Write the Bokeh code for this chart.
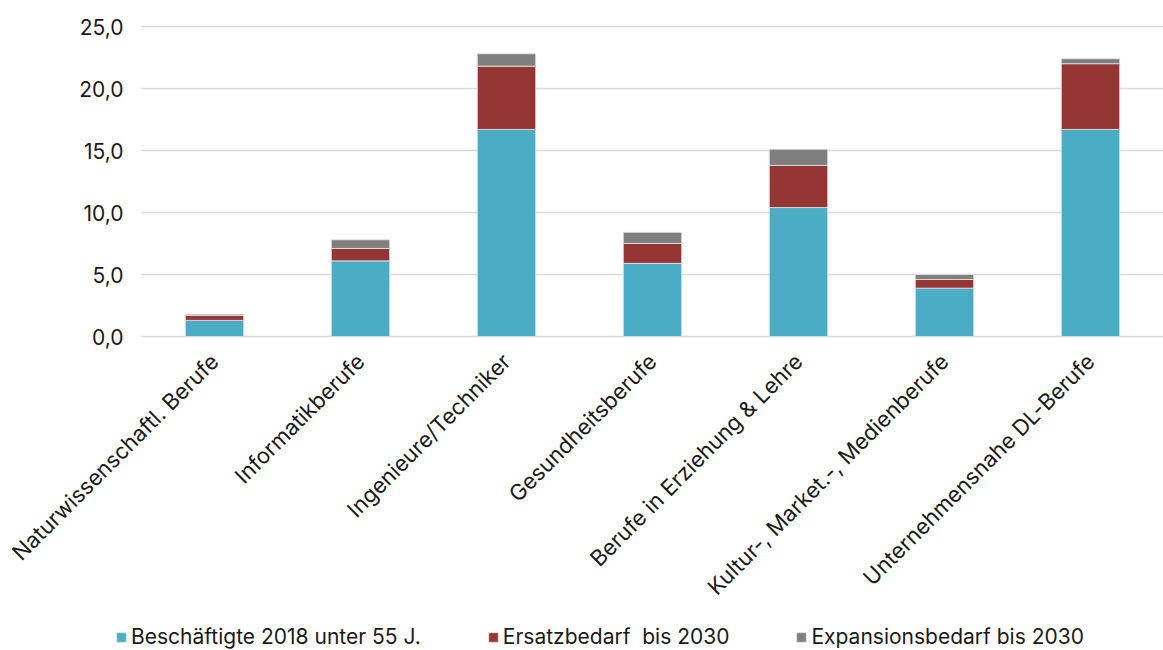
import math

from bokeh.embed import file_html
from bokeh.models import ColumnDataSource, FixedTicker, Legend, LegendItem, Range1d
from bokeh.plotting import figure
from bokeh.resources import INLINE

# Berufsgruppen (Kategorien der x-Achse)
categories = [
    "Naturwissenschaftl. Berufe",
    "Informatikberufe",
    "Ingenieure/Techniker",
    "Gesundheitsberufe",
    "Berufe in Erziehung & Lehre",
    "Kultur-, Market.-, Medienberufe",
    "Unternehmensnahe DL-Berufe",
]

# Werte je Serie
beschaeftigte = [1.3, 6.1, 16.7, 5.9, 10.4, 3.9, 16.7]
ersatzbedarf = [0.4, 1.0, 5.1, 1.6, 3.4, 0.7, 5.3]
expansionsbedarf = [0.1, 0.7, 1.0, 0.9, 1.3, 0.4, 0.4]

series_names = ["beschaeftigte", "ersatzbedarf", "expansionsbedarf"]
series_labels = ["Beschäftigte 2018 unter 55 J.", "Ersatzbedarf  bis 2030", "Expansionsbedarf bis 2030"]
series_colors = ["#4BACC6", "#943634", "#7F7F7F"]

y_ticks = [0, 5, 10, 15, 20, 25]
y_tick_labels = ["0,0", "5,0", "10,0", "15,0", "20,0", "25,0"]

FONT = "Inter"
TEXT_COLOR = "#1a1a1a"

# category slots 1..n on a numeric axis
x_pos = list(range(1, len(categories) + 1))
x_left = x_pos[0] - 0.5
x_right = x_pos[-1] + 0.5

source = ColumnDataSource(dict(
    x=x_pos,
    beschaeftigte=beschaeftigte,
    ersatzbedarf=ersatzbedarf,
    expansionsbedarf=expansionsbedarf,
))

# The plot area fills the whole canvas; axes sit at fixed data positions
# so the value labels, rotated category labels and legend all fit inside.
W, H = 1163, 650
px_per_cat = 146.0
px_per_unit = 12.4
left_px, zero_px = 141.0, 336.0

p = figure(
    x_range=Range1d(x_left - left_px / px_per_cat, x_right),
    y_range=Range1d(-(H - zero_px) / px_per_unit, zero_px / px_per_unit),
    width=W,
    height=H,
    output_backend="svg",
    toolbar_location=None,
    min_border=0,
)

p.outline_line_color = None
p.background_fill_color = "white"
p.border_fill_color = "white"
p.xgrid.grid_line_color = None
p.ygrid.grid_line_color = None

# horizontal gridlines across the category area
p.segment(
    x0=[x_left] * len(y_ticks), x1=[x_right] * len(y_ticks),
    y0=y_ticks, y1=y_ticks,
    line_color="#d9d9d9", line_width=1.6,
)

renderers = p.vbar_stack(
    series_names,
    x="x",
    width=0.4,
    source=source,
    color=series_colors,
    line_color="#e6e6e6",
    line_width=0.8,
)

p.yaxis.fixed_location = x_left
p.yaxis.ticker = FixedTicker(ticks=y_ticks)
p.yaxis.major_label_overrides = {t: lbl for t, lbl in zip(y_ticks, y_tick_labels)}
p.yaxis.axis_line_color = None
p.yaxis.major_tick_line_color = None
p.yaxis.minor_tick_line_color = None
p.yaxis.major_label_standoff = 12
p.yaxis.major_label_text_font = FONT
p.yaxis.major_label_text_font_size = "21px"
p.yaxis.major_label_text_color = TEXT_COLOR

p.xaxis.fixed_location = 0
p.xaxis.ticker = FixedTicker(ticks=x_pos)
p.xaxis.major_label_overrides = {x: c for x, c in zip(x_pos, categories)}
p.xaxis.axis_line_color = None
p.xaxis.major_tick_line_color = None
p.xaxis.minor_tick_line_color = None
p.xaxis.major_label_orientation = math.pi / 4
p.xaxis.major_label_standoff = 15
p.xaxis.major_label_text_font = FONT
p.xaxis.major_label_text_font_size = "22px"
p.xaxis.major_label_text_color = TEXT_COLOR

legend = Legend(
    items=[LegendItem(label=lbl, renderers=[r]) for lbl, r in zip(series_labels, renderers)],
    orientation="horizontal",
    location=(115, 1),
    glyph_width=12,
    glyph_height=12,
    label_standoff=4,
    spacing=66,
    padding=0,
    margin=0,
    border_line_color=None,
    background_fill_alpha=0,
    label_text_font=FONT,
    label_text_font_size="21px",
    label_text_color=TEXT_COLOR,
)
p.add_layout(legend, "center")

open("out.html", "w").write(file_html(p, INLINE))
